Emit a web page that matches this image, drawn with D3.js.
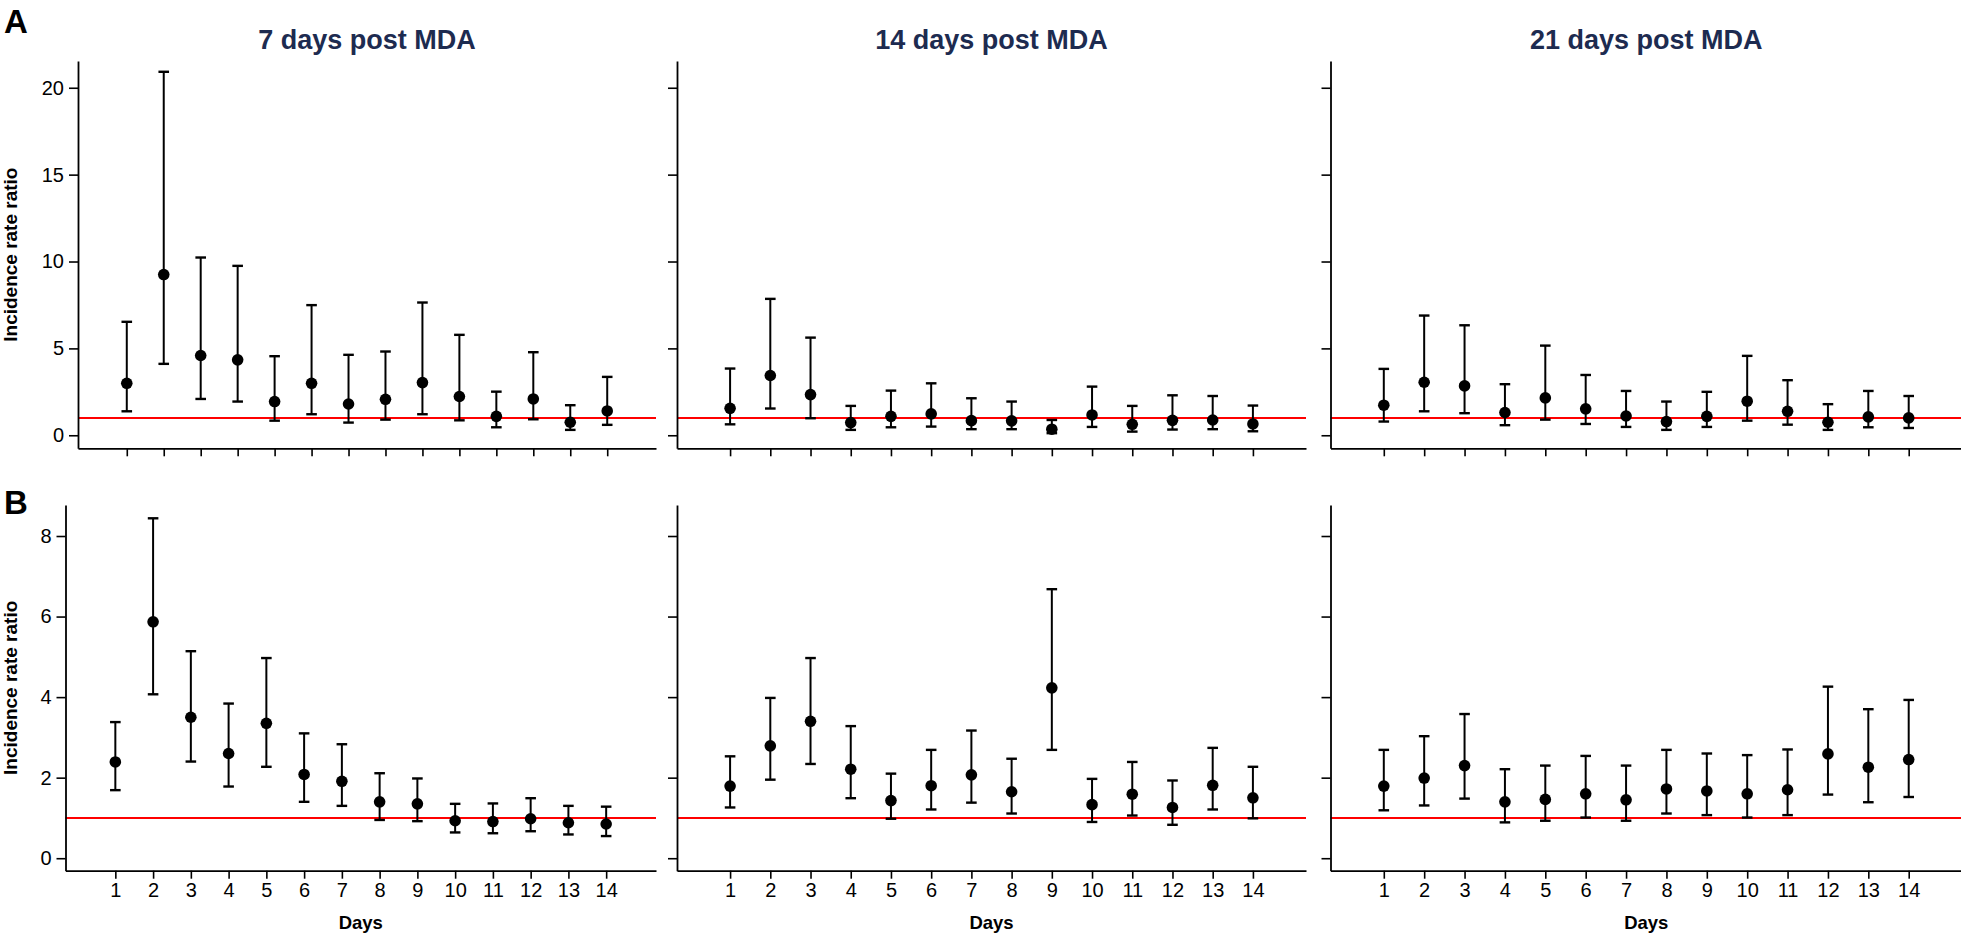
<!DOCTYPE html>
<html><head><meta charset="utf-8">
<script src="https://cdn.jsdelivr.net/npm/d3@7"></script>
<style>
html,body{margin:0;padding:0;background:#fff;}
svg{display:block;font-family:"Liberation Sans",Arial,Helvetica,sans-serif;}
</style></head>
<body><svg id="chart" width="1961" height="937"></svg>
<script>
const days = [1,2,3,4,5,6,7,8,9,10,11,12,13,14];
const panelTitles = ["7 days post MDA","14 days post MDA","21 days post MDA"];
const rowLetters = ["A","B"];
const yTicksA = [0,5,10,15,20];
const yTicksB = [0,2,4,6,8];
const refValue = 1;

const irrA7 = [2.99,9.25,4.59,4.34,1.94,2.99,1.80,2.07,3.03,2.23,1.09,2.09,0.75,1.40];
const loA7  = [1.38,4.11,2.09,1.94,0.84,1.21,0.73,0.90,1.21,0.86,0.46,0.92,0.31,0.60];
const hiA7  = [6.53,20.92,10.23,9.75,4.55,7.49,4.63,4.82,7.64,5.78,2.51,4.78,1.73,3.36];

const irrA14 = [1.55,3.44,2.34,0.73,1.09,1.23,0.84,0.83,0.35,1.17,0.63,0.86,0.88,0.65];
const loA14  = [0.63,1.54,0.98,0.31,0.46,0.50,0.35,0.35,0.12,0.48,0.21,0.33,0.35,0.23];
const hiA14  = [3.84,7.85,5.62,1.69,2.57,2.99,2.13,1.94,0.88,2.80,1.69,2.30,2.26,1.71];

const irrA21 = [1.73,3.05,2.84,1.31,2.15,1.52,1.11,0.79,1.09,1.96,1.38,0.75,1.06,1.00];
const loA21  = [0.79,1.38,1.27,0.58,0.90,0.65,0.48,0.31,0.48,0.84,0.61,0.31,0.46,0.42];
const hiA21  = [3.82,6.89,6.33,2.94,5.16,3.47,2.55,1.94,2.50,4.57,3.17,1.79,2.55,2.26];

const irrB7 = [2.39,5.87,3.50,2.60,3.35,2.08,1.91,1.40,1.35,0.93,0.91,0.98,0.88,0.85];
const loB7  = [1.69,4.07,2.40,1.78,2.27,1.40,1.30,0.95,0.92,0.64,0.62,0.67,0.59,0.55];
const hiB7  = [3.38,8.44,5.14,3.84,4.97,3.10,2.83,2.11,1.98,1.35,1.36,1.49,1.30,1.28];

const irrB14 = [1.79,2.79,3.40,2.21,1.43,1.80,2.07,1.65,4.23,1.33,1.59,1.26,1.81,1.50];
const loB14  = [1.26,1.95,2.34,1.49,0.98,1.21,1.38,1.11,2.69,0.90,1.06,0.83,1.21,0.99];
const hiB14  = [2.53,3.98,4.97,3.28,2.10,2.69,3.17,2.47,6.68,1.97,2.39,1.93,2.74,2.27];

const irrB21 = [1.79,1.99,2.30,1.40,1.46,1.60,1.45,1.72,1.67,1.60,1.70,2.59,2.26,2.45];
const loB21  = [1.19,1.31,1.48,0.89,0.93,1.01,0.93,1.11,1.07,1.01,1.07,1.58,1.39,1.52];
const hiB21  = [2.69,3.03,3.58,2.21,2.30,2.54,2.30,2.69,2.60,2.56,2.70,4.26,3.70,3.93];

const svg = d3.select("#chart");
const titleColor = "#1d2b50";

const rows = [
  {letter:"A", top:61, bottom:448.3, domain:[-0.75,21.54], ticks:yTicksA, letterY:33.3,
   x0s:[78,677,1330.5], series:[[irrA7,loA7,hiA7],[irrA14,loA14,hiA14],[irrA21,loA21,hiA21]], xlabels:false},
  {letter:"B", top:505, bottom:870.7, domain:[-0.31,8.77], ticks:yTicksB, letterY:514,
   x0s:[65.5,677,1330.5], series:[[irrB7,loB7,hiB7],[irrB14,loB14,hiB14],[irrB21,loB21,hiB21]], xlabels:true}
];
const x1s = [656,1306,1962];

rows.forEach((row, ri) => {
  svg.append("text").attr("x",4).attr("y",row.letterY)
    .attr("font-size",33).attr("font-weight","bold").attr("fill","#000").text(row.letter);
  const y = d3.scaleLinear().domain(row.domain).range([row.bottom,row.top]);
  row.x0s.forEach((x0, pi) => {
    const x1 = x1s[pi];
    const x = d3.scaleLinear().domain([-0.32,15.32]).range([x0,x1]);
    const g = svg.append("g");
    // red reference line
    g.append("line").attr("x1",x0).attr("x2",x1).attr("y1",y(refValue)).attr("y2",y(refValue))
      .attr("stroke","#ff0000").attr("stroke-width",2);
    // y axis
    const yAx = d3.axisLeft(y).tickValues(row.ticks).tickSize(9).tickSizeOuter(0).tickPadding(5)
      .tickFormat(pi===0 ? d3.format("d") : () => "");
    const gy = g.append("g").attr("transform",`translate(${x0},0)`).call(yAx);
    // x axis
    const xAx = d3.axisBottom(x).tickValues(days).tickSize(8).tickSizeOuter(0).tickPadding(4.5)
      .tickFormat(row.xlabels ? d3.format("d") : () => "");
    const gx = g.append("g").attr("transform",`translate(0,${row.bottom})`).call(xAx);
    [gy,gx].forEach(ax => {
      ax.select(".domain").attr("stroke","#000").attr("stroke-width",1.8);
      ax.selectAll(".tick line").attr("stroke","#000").attr("stroke-width",1.6);
      ax.selectAll(".tick text").attr("font-size",20).attr("fill","#000")
        .attr("font-family","'Liberation Sans',Arial,sans-serif");
    });
    // error bars and points
    const [irr, lo, hi] = row.series[pi];
    const data = days.map((d,i) => ({d, v:irr[i], lo:lo[i], hi:hi[i]}));
    const eb = g.append("g").attr("stroke","#000").attr("stroke-width",2);
    eb.selectAll("line.v").data(data).join("line").attr("class","v")
      .attr("x1",d=>x(d.d)).attr("x2",d=>x(d.d)).attr("y1",d=>y(d.lo)).attr("y2",d=>y(d.hi));
    eb.selectAll("line.ch").data(data).join("line").attr("class","ch")
      .attr("x1",d=>x(d.d)-5.3).attr("x2",d=>x(d.d)+5.3).attr("y1",d=>y(d.hi)).attr("y2",d=>y(d.hi))
      .attr("stroke-width",2.4);
    eb.selectAll("line.cl").data(data).join("line").attr("class","cl")
      .attr("x1",d=>x(d.d)-5.3).attr("x2",d=>x(d.d)+5.3).attr("y1",d=>y(d.lo)).attr("y2",d=>y(d.lo))
      .attr("stroke-width",2.4);
    g.selectAll("circle.pt").data(data).join("circle").attr("class","pt")
      .attr("cx",d=>x(d.d)).attr("cy",d=>y(d.v)).attr("r",5.8).attr("fill","#000");
    // titles
    if (ri===0) {
      svg.append("text").attr("x",(x0+x1)/2).attr("y",49.3).attr("text-anchor","middle")
        .attr("font-size",27).attr("font-weight","bold").attr("fill",titleColor).text(panelTitles[pi]);
    }
    if (row.xlabels) {
      svg.append("text").attr("x",(x0+x1)/2).attr("y",row.bottom+58.6).attr("text-anchor","middle")
        .attr("font-size",18.5).attr("font-weight","bold").attr("fill","#000").text("Days");
    }
    if (pi===0) {
      const cy = (row.top+row.bottom)/2;
      svg.append("text").attr("transform",`translate(17.3,${cy}) rotate(-90)`).attr("text-anchor","middle")
        .attr("font-size",19).attr("font-weight","bold").attr("fill","#000").text("Incidence rate ratio");
    }
  });
});
</script></body></html>
